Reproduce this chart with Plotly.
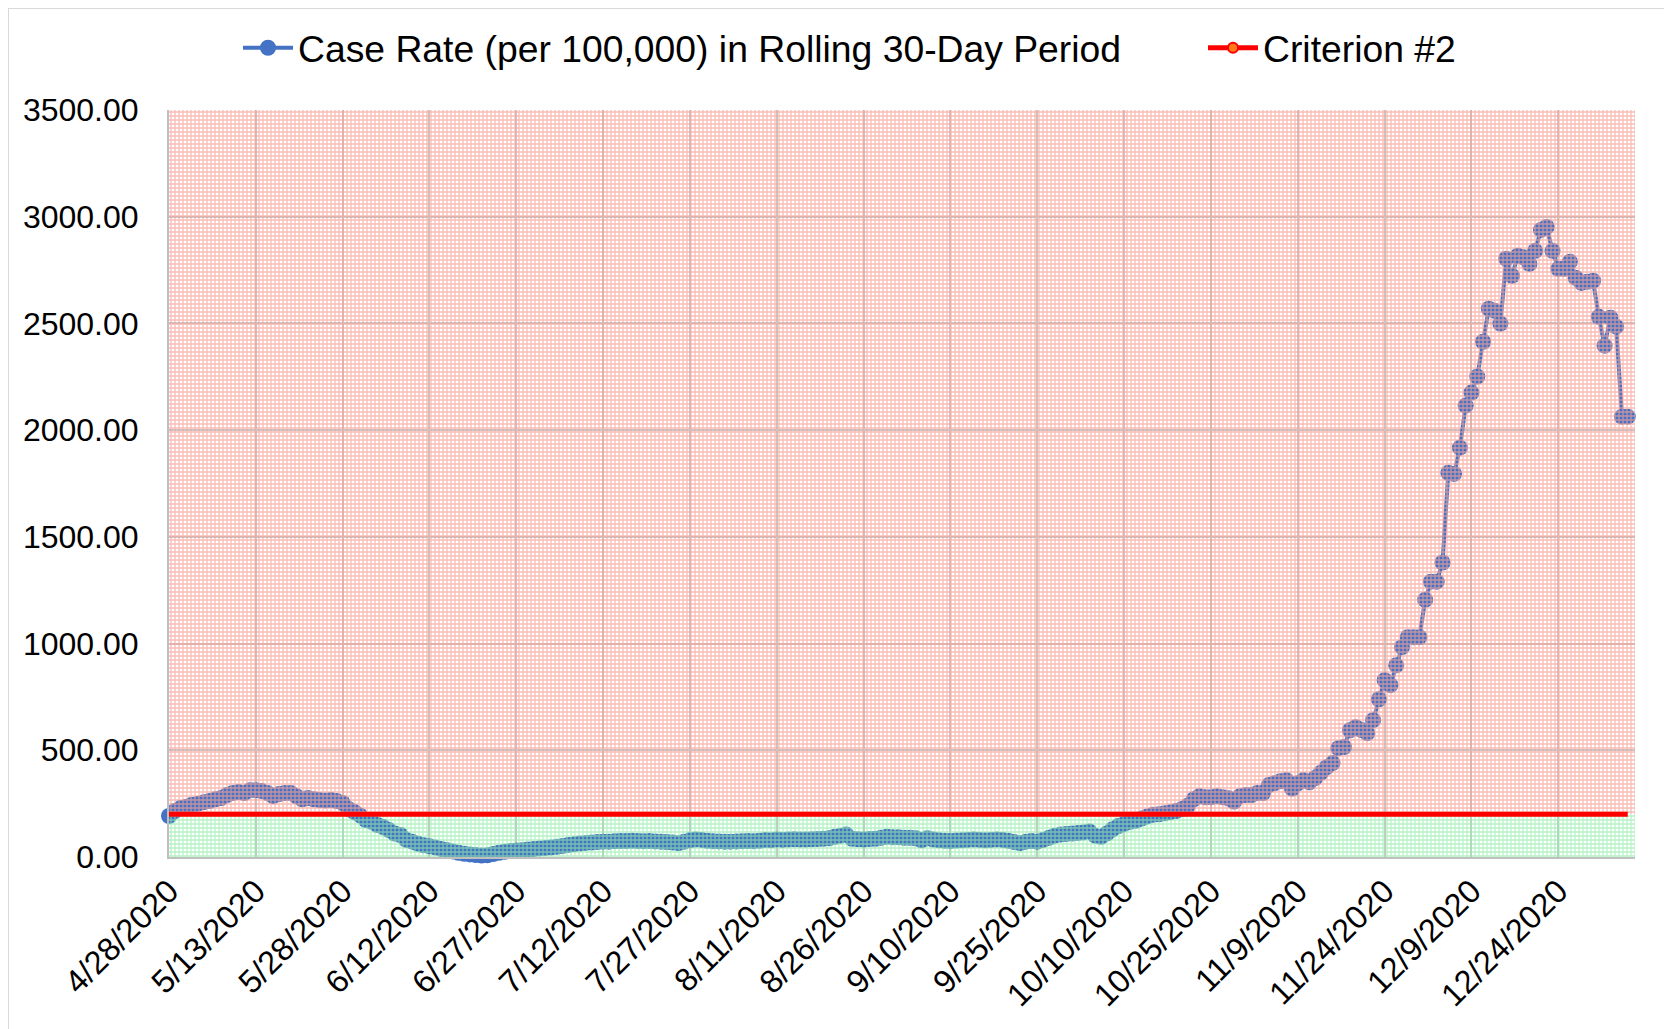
import pandas as pd
import plotly.graph_objects as go

# ---------------- data ----------------
START_DATE = "2020-04-28"
X_END = "2021-01-06 06:00"      # right edge of the plotted date range

case_rate_early = [  # 4/28/2020 - 7/12/2020
    192, 215, 229, 235, 245, 250, 257, 262, 270, 276,
    290, 300, 304, 300, 313, 313, 309, 300, 285, 295,
    300, 300, 285, 270, 276, 270, 267, 265, 267, 262,
    253, 225, 211, 195, 173, 165, 150, 140, 126, 110,
    103, 80, 72, 62, 55, 50, 45, 38, 32, 26,
    20, 15, 12, 9, 7, 8, 14, 20, 25, 28,
    30, 32, 35, 37, 40, 42, 45, 48, 52, 56,
    60, 63, 66, 68, 70, 72,
]
case_rate_summer = [  # 7/13/2020 - 10/4/2020
    72, 74, 75, 75, 76, 75, 74, 75, 73, 72,
    70, 68, 65, 72, 78, 82, 80, 76, 74, 73,
    72, 72, 73, 74, 75, 74, 76, 80, 78, 82,
    80, 82, 83, 82, 82, 83, 84, 85, 88, 95,
    100, 105, 85, 83, 82, 84, 85, 90, 95, 93,
    92, 90, 90, 88, 78, 88, 82, 78, 76, 75,
    77, 78, 80, 82, 80, 78, 80, 82, 80, 76,
    70, 65, 72, 75, 72, 80, 90, 100, 105, 108,
    110, 112, 115, 120,
]
case_rate_fall = [  # 10/5/2020 - 12/7/2020
    100, 95, 110, 130, 145, 155, 165, 170, 180, 190,
    198, 200, 205, 210, 215, 225, 240, 270, 285, 280,
    280,
    285, 280, 275, 260, 285, 290, 290, 300, 300, 337,
    346, 355, 360, 320, 345, 360, 350, 370, 395,
    421, 440, 510, 515, 594, 608, 595, 580, 641, 739,
    828, 805, 898, 983, 1030, 1030, 1030, 1205, 1290, 1290,
    1380, 1800, 1795,
]
case_rate_winter = [  # 12/8/2020 - 1/5/2021
    1918, 2115, 2176, 2251, 2414, 2569, 2559, 2499, 2803, 2723,
    2817, 2810, 2779, 2840, 2938, 2952, 2840, 2756, 2756, 2789,
    2714, 2690, 2695, 2700, 2531, 2396, 2527, 2485, 2063, 2063,
]
case_rate = case_rate_early + case_rate_summer + case_rate_fall + case_rate_winter

CRITERION = 200
Y_MAX = 3500
Y_STEP = 500
TICK_DAYS = 15

SERIES_NAME = "Case Rate (per 100,000) in Rolling 30-Day Period"
CRITERION_NAME = "Criterion #2"

# ---------------- figure ----------------
dates = pd.date_range(START_DATE, periods=len(case_rate), freq="D")
criterion = [CRITERION] * len(dates)
x_lo, x_hi = pd.Timestamp(START_DATE), pd.Timestamp(X_END)
zone_x = [x_lo, x_hi, x_hi, x_lo]

FONT = "Liberation Sans, Arial, sans-serif"
BLUE = "#4472C4"
RED = "#FF0000"

fig = go.Figure()

fig.add_trace(go.Scatter(
    x=dates, y=case_rate, mode="lines+markers", name=SERIES_NAME,
    line=dict(color=BLUE, width=4),
    marker=dict(color=BLUE, size=16),
    cliponaxis=False, legend="legend",
))

# green (below criterion) zone
fig.add_trace(go.Scatter(
    x=zone_x, y=[0, 0, CRITERION, CRITERION], fill="toself", mode="none",
    fillcolor="rgba(0,0,0,0)",
    fillpattern=dict(shape="+", fgcolor="#8FEBA8", bgcolor="rgba(0,0,0,0)",
                     size=4, solidity=0.55, fgopacity=0.65),
    showlegend=False, hoverinfo="skip",
))
# red (above criterion) zone
fig.add_trace(go.Scatter(
    x=zone_x, y=[CRITERION, CRITERION, Y_MAX, Y_MAX], fill="toself", mode="none",
    fillcolor="rgba(0,0,0,0)",
    fillpattern=dict(shape="+", fgcolor="#F7A094", bgcolor="rgba(0,0,0,0)",
                     size=4, solidity=0.55, fgopacity=0.7),
    showlegend=False, hoverinfo="skip",
))

fig.add_trace(go.Scatter(
    x=dates, y=criterion, mode="lines", name=CRITERION_NAME,
    line=dict(color=RED, width=5), showlegend=False,
))
# legend entry for the criterion series
fig.add_trace(go.Scatter(
    x=[None], y=[None], mode="lines+markers", name=CRITERION_NAME,
    line=dict(color=RED, width=5),
    marker=dict(color="#FF7A1A", size=10, line=dict(color=RED, width=2)),
    legend="legend2",
))

# layout geometry (figure pixel coordinates)
W, H = 1672, 1029
L, R, T, B = 161, 45, 102, 180
pw, ph = W - L - R, H - T - B

def px_x(p):
    return (p - L) / pw

def px_y(p):
    return (H - B - p) / ph

fig.update_layout(
    width=W, height=H,
    margin=dict(l=L, r=R, t=T, b=B, autoexpand=False),
    paper_bgcolor="white", plot_bgcolor="white",
    font=dict(family=FONT, color="#000000"),
    legend=dict(orientation="h", x=px_x(230), xanchor="left", y=px_y(40), yanchor="middle",
                font=dict(size=37.3, family=FONT), bgcolor="rgba(0,0,0,0)", itemwidth=50),
    legend2=dict(orientation="h", x=px_x(1195), xanchor="left", y=px_y(40), yanchor="middle",
                 font=dict(size=37.3, family=FONT), bgcolor="rgba(0,0,0,0)", itemwidth=50),
    xaxis=dict(
        type="date", range=[x_lo, x_hi], automargin=False,
        tick0=START_DATE, dtick=TICK_DAYS * 86400000,
        tickformat="%-m/%-d/%Y", tickangle=-45,
        tickfont=dict(size=32.5, family=FONT, color="#000000"),
        showgrid=True, gridcolor="#C8C8C8", gridwidth=1.5,
        showline=True, linecolor="#BFBFBF", linewidth=2,
        zeroline=False, ticks="",
    ),
    yaxis=dict(
        range=[0, Y_MAX], dtick=Y_STEP, tick0=0, tickformat=".2f", automargin=False,
        tickfont=dict(size=32, family=FONT, color="#000000"),
        showgrid=True, gridcolor="#C8C8C8", gridwidth=1.5,
        showline=True, linecolor="#BFBFBF", linewidth=2,
        zeroline=False, ticks="", ticklabelstandoff=22,
    ),
    shapes=[dict(type="rect", xref="paper", yref="paper",
                 x0=px_x(0), x1=px_x(W + 20), y0=px_y(H + 20), y1=px_y(0),
                 line=dict(color="#D9D9D9", width=2), layer="below")],
)

fig.write_html("out.html")
